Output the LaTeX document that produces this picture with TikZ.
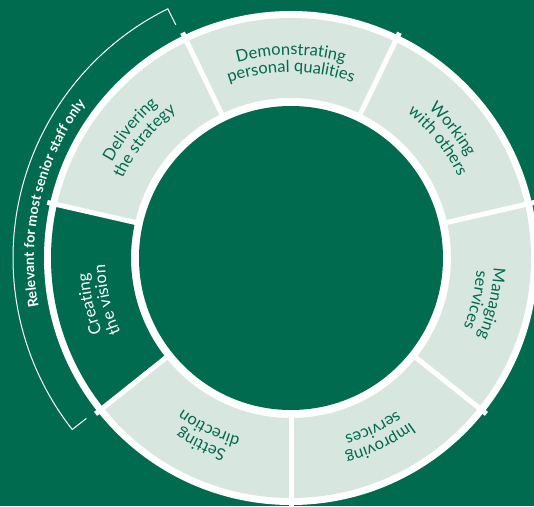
\documentclass[tikz,border=0pt]{standalone}
\usepackage{fontspec}
\setmainfont{Lato}
\usetikzlibrary{decorations.text}
\definecolor{dkgreen}{HTML}{006B4E}
\definecolor{segfill}{HTML}{D8E6E0}
\newcommand\segfont{\fontsize{16.5}{18}\selectfont}
\newcommand\relfont{\bfseries\fontsize{14}{16}\selectfont}
\newcommand\seglabel[4]{%
  \path[decorate,decoration={text along path,text align=center,
      text={|\segfont\color{#4}|#2}}]
    (#1+25:203) arc[start angle=#1+25,end angle=#1-25,radius=203];
  \path[decorate,decoration={text along path,text align=center,
      text={|\segfont\color{#4}|#3}}]
    (#1+25:186) arc[start angle=#1+25,end angle=#1-25,radius=186];
}
\begin{document}
\begin{tikzpicture}[x=1pt,y=1pt,
  sep/.style={white,line width=5pt},
  bracket/.style={white,line width=1pt}]
\useasboundingbox (-291,-248) rectangle (243,258);
\clip (-291,-248) rectangle (243,258);
\fill[dkgreen] (-291,-248) rectangle (243,258);
% ring
\fill[white] (0,0) circle[radius=247];
\fill[segfill,even odd rule] (0,0) circle[radius=240] (0,0) circle[radius=160];
% creating the vision segment (dark)
\fill[dkgreen] (218.571:160) arc[start angle=218.571,end angle=167.143,radius=160]
  -- (167.143:240) arc[start angle=167.143,end angle=218.571,radius=240] -- cycle;
% separators
\foreach \b in {115.714,167.143,218.571,270,321.429,12.857,64.286}
  \draw[sep] (\b:150) -- (\b:250);
% inner disk
\fill[dkgreen] (0,0) circle[radius=152];
% labels
\seglabel{90}{Demonstrating}{personal qualities}{dkgreen}
\seglabel{38.571}{Working}{with others}{dkgreen}
\seglabel{347.143}{Managing}{services}{dkgreen}
\seglabel{295.714}{Improving}{services}{dkgreen}
\seglabel{244.286}{Setting}{direction}{dkgreen}
\seglabel{192.857}{Creating}{the vision}{white}
\seglabel{141.429}{Delivering}{the strategy}{dkgreen}
% bracket
\draw[bracket] (116.3:260) -- (116.3:278) arc[start angle=116.3,end angle=218.1,radius=278] -- (218.1:260);
\path[decorate,decoration={text along path,text align=center,
    text={|\relfont\color{white}|Relevant for most senior staff only}}]
  (218:257) arc[start angle=218,end angle=116,radius=257];
\end{tikzpicture}
\end{document}
